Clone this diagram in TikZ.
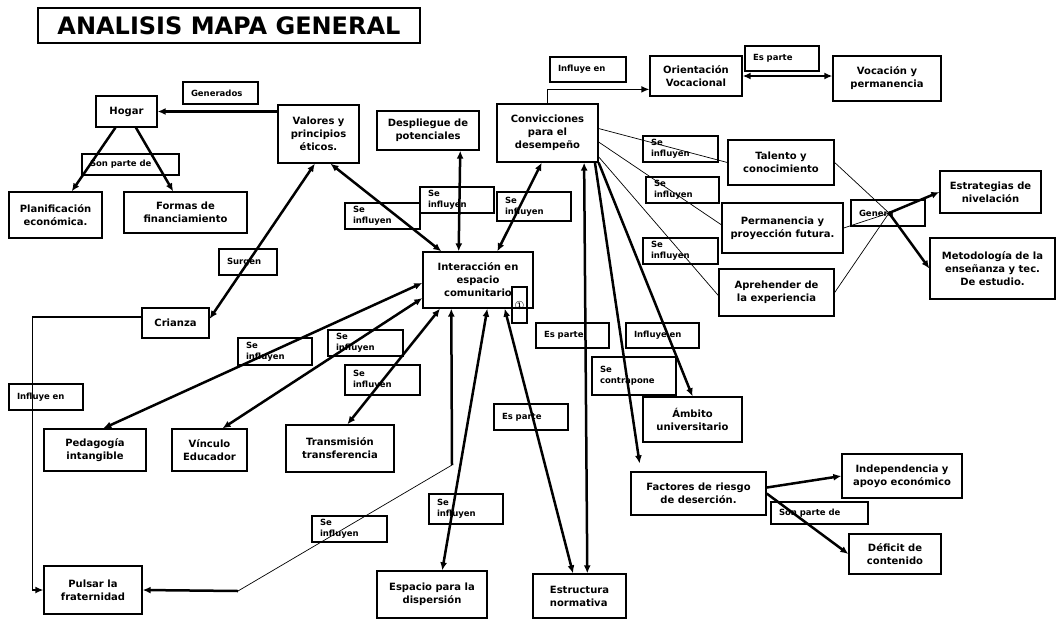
\documentclass[tikz,border=0pt]{standalone}
\usepackage{fontspec}
\setmainfont{DejaVu Sans}
\usetikzlibrary{arrows.meta}

\begin{document}
\begin{tikzpicture}[x=1pt,y=-1pt,
box/.style={draw, line width=1.3pt, align=center, inner sep=2pt, font=\bfseries\fontsize{10}{13}\selectfont},
lbl/.style={draw, line width=1.1pt, align=left, inner xsep=8pt, inner ysep=1pt, font=\bfseries\fontsize{8.5}{11}\selectfont},
sz/.style 2 args={minimum width=#1pt, minimum height=#2pt},
lsz/.style 2 args={text width=#1pt-16pt, minimum height=#2pt},
arr/.style={line width=2.5pt, -{Latex[length=8pt,width=7pt]}},
darr/.style={line width=2.5pt, {Latex[length=8pt,width=7pt]}-{Latex[length=8pt,width=7pt]}},
mid/.style={line width=1.4pt, -{Latex[length=8pt,width=7pt]}},
fine/.style={line width=0.7pt},
]
\useasboundingbox (0,0) rectangle (1057,621);

\node[draw, line width=1.3pt, sz={382}{35}, font=\bfseries\fontsize{24}{24}\selectfont] (titulo) at (229,25.5) {ANALISIS MAPA GENERAL};

% boxes
\node[box, sz={61}{31}] (hogar) at (126.5,111.5) {Hogar};
\node[box, sz={81}{58}] (valores) at (318.5,134) {Valores y\\principios\\éticos.};
\node[box, sz={93}{46}] (planif) at (55.5,215) {Planificación\\económica.};
\node[box, sz={123}{41}] (formas) at (185.5,212.5) {Formas de\\financiamiento};
\node[box, sz={102}{39}] (despliegue) at (428,130.5) {Despliegue de\\potenciales};
\node[box, sz={101}{58}] (convic) at (547.5,133) {Convicciones\\para el\\desempeño};
\node[box, sz={92}{40}] (orient) at (696,76) {Orientación\\Vocacional};
\node[box, sz={108}{45}] (vocacion) at (887,78.5) {Vocación y\\permanencia};
\node[box, sz={106}{45}] (talento) at (781,162.5) {Talento y\\conocimiento};
\node[box, sz={121}{50}] (perman) at (782.5,228) {Permanencia y\\proyección futura.};
\node[box, sz={115}{47}] (aprehender) at (776.5,292.5) {Aprehender de\\la experiencia};
\node[box, sz={101}{42}] (estrateg) at (990.5,192) {Estrategias de\\nivelación};
\node[box, sz={125}{61}] (metodo) at (992.5,268.5) {Metodología de la\\enseñanza y tec.\\De estudio.};
\node[box, sz={110}{56}] (inter) at (478,280) {Interacción en\\espacio\\comunitario};
\node[draw, line width=1.1pt, sz={15}{36}, inner sep=0pt, font=\fontsize{11}{11}\selectfont] (nota) at (519.5,305) {①};
\node[box, sz={67}{30}] (crianza) at (175.5,323) {Crianza};
\node[box, sz={102}{42}] (pedagogia) at (95,450) {Pedagogía\\intangible};
\node[box, sz={75}{42}] (vinculo) at (209.5,450) {Vínculo\\Educador};
\node[box, sz={108}{47}] (transm) at (340,448.5) {Transmisión\\transferencia};
\node[box, sz={98}{48}] (pulsar) at (93,590) {Pulsar la\\fraternidad};
\node[box, sz={110}{47}] (espacio) at (432,594.5) {Espacio para la\\dispersión};
\node[box, sz={93}{44}, align=left] (estruct) at (579.5,596) {Estructura\\normativa};
\node[box, sz={99}{45}] (ambito) at (692.5,419.5) {Ámbito\\universitario};
\node[box, sz={135}{43}] (factores) at (698.5,493.5) {Factores de riesgo\\de deserción.};
\node[box, sz={120}{44}] (indep) at (902,476) {Independencia y\\apoyo económico};
\node[box, sz={92}{40}] (deficit) at (895,554) {Déficit de\\contenido};

% labels
\node[lbl, lsz={75}{22}] (lgen) at (220.5,93) {Generados};
\node[lbl, lsz={97}{21}] (lsonparte) at (130.5,164.5) {Son parte de};
\node[lbl, lsz={76}{25}] (linfl1) at (588,69.5) {Influye en};
\node[lbl, lsz={74}{25}] (lesp1) at (782,58.5) {Es parte};
\node[lbl, lsz={75}{26}] (lse1) at (680.5,149) {Se\\influyen};
\node[lbl, lsz={73}{26}] (lse2) at (682.5,190) {Se\\influyen};
\node[lbl, lsz={75}{26}] (lse3) at (680.5,251) {Se\\influyen};
\node[lbl, lsz={74}{26}] (lgenera) at (888,213) {Genera};
\node[lbl, lsz={75}{26}] (lseA) at (382.5,216) {Se\\influyen};
\node[lbl, lsz={74}{26}] (lseB) at (457,200) {Se\\influyen};
\node[lbl, lsz={74}{29}] (lseC) at (534,206.5) {Se\\influyen};
\node[lbl, lsz={58}{26}] (lsurgen) at (248,262) {Surgen};
\node[lbl, lsz={74}{26}] (linfl2) at (46,397) {Influye en};
\node[lbl, lsz={74}{27}] (lseD) at (275,351.5) {Se\\influyen};
\node[lbl, lsz={75}{26}] (lseE) at (365.5,343) {Se\\influyen};
\node[lbl, lsz={75}{30}] (lseF) at (382.5,380) {Se\\influyen};
\node[lbl, lsz={75}{26}] (lseG) at (349.5,529) {Se\\influyen};
\node[lbl, lsz={74}{30}] (lseH) at (466,509) {Se\\influyen};
\node[lbl, lsz={74}{26}] (lesp2) at (531,417) {Es parte};
\node[lbl, lsz={73}{25}] (lesp3) at (572.5,335.5) {Es parte};
\node[lbl, lsz={73}{25}] (linfl3) at (662.5,335.5) {Influye en};
\node[lbl, lsz={84}{38}] (lcontra) at (634,376) {Se\\contrapone};
\node[lbl, lsz={97}{22}] (lsonparte2) at (819.5,513) {Son parte de};

\coordinate (gen) at (889,213);
\coordinate (k1) at (452,465);
\coordinate (k2) at (238,591);

\path
(valores.west |- hogar.east) edge[arr] (hogar.east)
(hogar) edge[arr] (planif)
(hogar) edge[arr] (formas)
(valores.292) edge[darr] (inter.142)
(valores.263) edge[darr] (crianza.7)
(despliegue.328) edge[darr] (inter.124)
(convic.259) edge[darr] (inter.56)
(orient.east) edge[darr] (orient.east -| vocacion.west)
(convic.5) edge[fine] (talento.west)
(convic.350) edge[fine] (perman.177)
(convic.335) edge[fine] (aprehender.183)
(talento.east) edge[fine] (gen)
(perman.east) edge[fine] (gen)
(aprehender.east) edge[fine] (gen)
(gen) edge[arr] (estrateg.west)
(gen) edge[arr] (metodo.west)
(inter.183) edge[darr] (pedagogia.69)
(inter.198) edge[darr] (vinculo.59)
(inter.217) edge[darr] (transm.73)
(inter.288) edge[darr] (espacio.67)
(inter.313) edge[darr] (estruct.106)
(convic.321) edge[darr] (estruct.71)
(convic.328) edge[arr, shorten >=8pt] (factores.159)
(convic.south east) edge[arr] (ambito.north)
(factores.5) edge[arr] (indep.west)
(factores.east) edge[arr] (deficit.west)
(k1) edge[arr] (inter.227)
(k1) edge[fine] (k2)
(k2) edge[arr] (pulsar.east)
;
\draw[mid] (convic.north) |- (orient.196);
\draw[mid] (crianza.170) -- ++(-109,0) |- (pulsar.west);
\end{tikzpicture}
\end{document}
